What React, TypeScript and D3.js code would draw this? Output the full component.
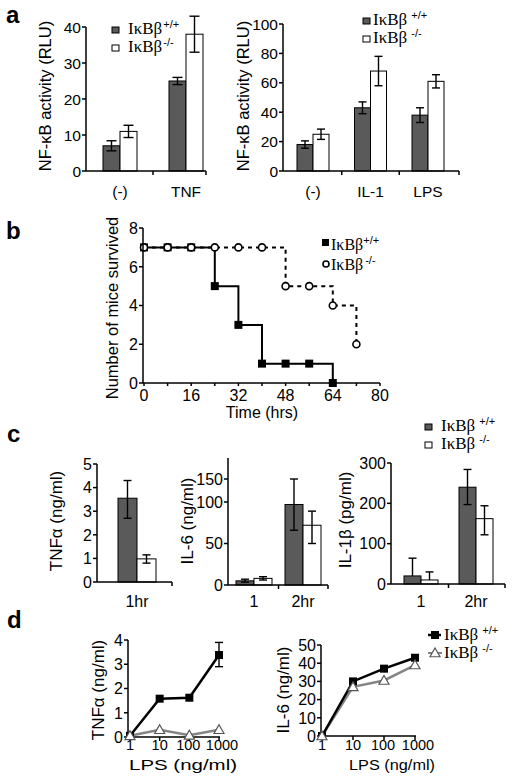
import React from "react";
import * as d3 from "d3";

const SANS = "'Liberation Sans', Arial, Helvetica, sans-serif";
const SERIF = "'Liberation Serif', 'Times New Roman', serif";
const DARK = "#5a5a5a";
const GRAY_LINE = "#858585";

// ---------- Panel a ----------
const aLeftCats = ["(-)", "TNF"];
const aLeftWT = [7, 25];
const aLeftWTErr = [1.4, 1];
const aLeftKO = [11, 38];
const aLeftKOErr = [1.7, 5];
const aLeftTicks = [0, 10, 20, 30, 40];

const aRightCats = ["(-)", "IL-1", "LPS"];
const aRightWT = [18, 43, 38];
const aRightWTErr = [2.5, 4, 5];
const aRightKO = [25, 68, 61];
const aRightKOErr = [3.5, 10, 4.5];
const aRightTicks = [0, 20, 40, 60, 80, 100];

// ---------- Panel b ----------
const bTimes = [0, 8, 16, 24, 32, 40, 48, 56, 64, 72];
const bWT = [7, 7, 7, 5, 3, 1, 1, 1, 0];
const bKO = [7, 7, 7, 7, 7, 7, 5, 5, 4, 2];
const bYTicks = [0, 2, 4, 6, 8];
const bXTicks = [0, 16, 32, 48, 64, 80];
const bXMinor = [0, 8, 16, 24, 32, 40, 48, 56, 64, 72, 80];

// ---------- Panel c ----------
const cTnfCats = ["1hr"];
const cTnfWT = [3.55];
const cTnfWTLo = [2.7];
const cTnfWTHi = [4.3];
const cTnfKO = [0.98];
const cTnfKOLo = [0.8];
const cTnfKOHi = [1.15];
const cTnfTicks = [0, 1, 2, 3, 4, 5];

const cIl6Cats = ["1", "2hr"];
const cIl6WT = [5, 97];
const cIl6WTLo = [3.5, 66];
const cIl6WTHi = [7, 150];
const cIl6KO = [8, 72];
const cIl6KOLo = [6, 50];
const cIl6KOHi = [10, 89];
const cIl6Ticks = [0, 50, 100, 150];

const cIl1Cats = ["1", "2hr"];
const cIl1WT = [20, 240];
const cIl1WTLo = [20, 197];
const cIl1WTHi = [64, 284];
const cIl1KO = [10, 162];
const cIl1KOLo = [10, 122];
const cIl1KOHi = [30, 194];
const cIl1Ticks = [0, 100, 200, 300];

// ---------- Panel d ----------
const dDoses = [1, 10, 100, 1000];
const dTnfWT = [0.05, 1.58, 1.62, 3.38];
const dTnfWTLo = [0.05, 1.58, 1.62, 2.9];
const dTnfWTHi = [0.05, 1.58, 1.62, 3.9];
const dTnfKO = [0.05, 0.3, 0.07, 0.3];
const dTnfTicks = [0, 1, 2, 3, 4];
const dIl6WT = [0, 30, 37, 43];
const dIl6KO = [0, 27, 30.5, 39];
const dIl6Ticks = [0, 10, 20, 30, 40, 50];

const GENO = "IκBβ";

function YAxis({ x, scale, ticks, top, fontSize }: any) {
  const y0 = scale(0);
  return (
    <g>
      <line x1={x} x2={x} y1={y0} y2={top} stroke="#000" strokeWidth={1.5} />
      {ticks.map((t: number) => (
        <g key={t}>
          <line x1={x - 4} x2={x} y1={scale(t)} y2={scale(t)} stroke="#000" strokeWidth={1.5} />
          <text x={x - 5} y={scale(t)} dy="0.36em" textAnchor="end" fontSize={fontSize} fontFamily={SANS}>
            {t}
          </text>
        </g>
      ))}
    </g>
  );
}

function YLabel({ x, y, size, children }: any) {
  return (
    <text transform={`translate(${x},${y}) rotate(-90)`} textAnchor="middle" fontSize={size} fontFamily={SANS}>
      {children}
    </text>
  );
}

function BarChart(p: any) {
  const centers = d3.scalePoint<string>().domain(p.cats).range(p.centerRange).padding(0);
  const series = d3.scaleBand<string>().domain(["wt", "ko"]).range([-p.barW, p.barW]);
  const y = p.yScale;
  const y0 = y(0);
  const cs = p.cats.map((c: string) => centers(c) as number);
  const mids: number[] = [];
  for (let i = 0; i < cs.length - 1; i++) mids.push((cs[i] + cs[i + 1]) / 2);
  mids.push(p.axisEnd);
  const rows = [
    { key: "wt", vals: p.wt, lo: p.wtLo, hi: p.wtHi, fill: DARK },
    { key: "ko", vals: p.ko, lo: p.koLo, hi: p.koHi, fill: "#fff" },
  ];
  return (
    <g>
      {rows.map((r) =>
        p.cats.map((c: string, i: number) => {
          const bx = (centers(c) as number) + (series(r.key) as number);
          const bw = series.bandwidth();
          const v = r.vals[i];
          return (
            <rect key={r.key + c} x={bx} y={y(v)} width={bw} height={y0 - y(v)} fill={r.fill} stroke="#000" strokeWidth={1} />
          );
        })
      )}
      {rows.map((r) =>
        p.cats.map((c: string, i: number) => {
          const cx = (centers(c) as number) + (series(r.key) as number) + series.bandwidth() / 2;
          const lo = Math.max(0, r.lo[i]);
          const hi = r.hi[i];
          const cw = p.capW / 2;
          return (
            <g key={"e" + r.key + c} stroke="#000" strokeWidth={1.4}>
              <line x1={cx} x2={cx} y1={y(lo)} y2={y(hi)} />
              <line x1={cx - cw} x2={cx + cw} y1={y(hi)} y2={y(hi)} />
              {r.lo[i] < r.vals[i] && <line x1={cx - cw} x2={cx + cw} y1={y(lo)} y2={y(lo)} />}
            </g>
          );
        })
      )}
      <line x1={p.axisX} x2={p.axisEnd} y1={y0} y2={y0} stroke="#000" strokeWidth={1.5} />
      {mids.map((m) => (
        <line key={m} x1={m} x2={m} y1={y0} y2={y0 + 4} stroke="#000" strokeWidth={1.5} />
      ))}
      <YAxis x={p.axisX} scale={y} ticks={p.ticks} top={p.top} fontSize={p.fontSize} />
      {p.cats.map((c: string) => (
        <text key={"l" + c} x={centers(c)} y={p.labelY} textAnchor="middle" fontSize={p.fontSize} fontFamily={SANS}>
          {c}
        </text>
      ))}
    </g>
  );
}

function GenoText({ x, y, sup, size, supSize, gap }: any) {
  return (
    <text x={x} y={y} fontFamily={SERIF} fontSize={size}>
      {GENO}
      <tspan dx={gap} dy={-size * 0.38} fontSize={supSize} fontFamily={SANS}>
        {sup}
      </tspan>
    </text>
  );
}

function BarLegend({ x, y1, y2, size, supSize, gap, textOff }: any) {
  return (
    <g>
      <rect x={x} y={y1 - 7} width={7} height={6} fill={DARK} stroke="#000" strokeWidth={1} />
      <GenoText x={x + textOff} y={y1} sup="+/+" size={size} supSize={supSize} gap={gap} />
      <rect x={x} y={y2 - 7} width={7} height={6} fill="#fff" stroke="#000" strokeWidth={1} />
      <GenoText x={x + textOff} y={y2} sup="-/-" size={size} supSize={supSize} gap={gap} />
    </g>
  );
}

function PanelLetter({ x, y, children }: any) {
  return (
    <text x={x} y={y} fontSize={24} fontWeight="bold" fontFamily={SANS}>
      {children}
    </text>
  );
}

function Survival() {
  const x = d3.scaleLinear().domain([0, 80]).range([144, 380]);
  const y = d3.scaleLinear().domain([0, 8]).range([383, 228]);
  const line = d3
    .line<[number, number]>()
    .x((d) => x(d[0]))
    .y((d) => y(d[1]))
    .curve(d3.curveStepAfter);
  const wtPts: [number, number][] = bWT.map((v, i) => [bTimes[i], v]);
  const koPts: [number, number][] = bKO.map((v, i) => [bTimes[i], v]);
  return (
    <g>
      <path d={line(koPts) as string} fill="none" stroke="#000" strokeWidth={2} strokeDasharray="4,4" />
      <path d={line(wtPts) as string} fill="none" stroke="#000" strokeWidth={2} />
      {wtPts.map((d, i) => (
        <rect key={"s" + i} x={x(d[0]) - 4} y={y(d[1]) - 4} width={8} height={8} fill="#000" />
      ))}
      {koPts.map((d, i) => (
        <circle key={"c" + i} cx={x(d[0])} cy={y(d[1])} r={3.5} fill="#fff" stroke="#000" strokeWidth={1.6} />
      ))}
      <line x1={143} x2={380} y1={383} y2={383} stroke="#000" strokeWidth={1.5} />
      {bXMinor.map((t) => (
        <line key={"m" + t} x1={x(t)} x2={x(t)} y1={383} y2={386} stroke="#000" strokeWidth={1.5} />
      ))}
      {bXTicks.map((t) => (
        <text key={"t" + t} x={x(t)} y={401} textAnchor="middle" fontSize={16} fontFamily={SANS}>
          {t}
        </text>
      ))}
      <YAxis x={143} scale={y} ticks={bYTicks} top={y(8)} fontSize={16} />
      <YLabel x={118} y={308} size={16.5}>Number of mice survived</YLabel>
      <text x={262} y={418} textAnchor="middle" fontSize={16} fontFamily={SANS}>
        Time (hrs)
      </text>
      <rect x={322} y={239} width={7} height={7} fill="#000" />
      <text x={331} y={250} fontFamily={SERIF} fontSize={16}>
        {GENO}
        <tspan dy={-6} fontSize={11} fontFamily={SANS}>+/+</tspan>
      </text>
      <circle cx={326} cy={264} r={3} fill="#fff" stroke="#000" strokeWidth={1.6} />
      <text x={331} y={270} fontFamily={SERIF} fontSize={16}>
        {GENO}
        <tspan dx={2} dy={-6} fontSize={11} fontFamily={SANS}>-/-</tspan>
      </text>
    </g>
  );
}

function Triangle({ cx, cy }: any) {
  const s = 5;
  return (
    <path
      d={`M${cx},${cy - s} L${cx + s},${cy + s * 0.75} L${cx - s},${cy + s * 0.75} Z`}
      fill="#fff"
      stroke="#555"
      strokeWidth={1.2}
    />
  );
}

function DoseChart(p: any) {
  const x = d3.scaleLog().domain([1, 1000]).range(p.xRange);
  const y = p.yScale;
  const line = d3
    .line<number>()
    .x((_, i) => x(dDoses[i]))
    .y((d) => y(d));
  const y0 = y(0);
  return (
    <g>
      <line x1={p.axisX} x2={p.xRange[1] + 1} y1={y0} y2={y0} stroke="#000" strokeWidth={1.5} />
      {dDoses.map((d, i) => (
        <g key={d}>
          <line x1={x(d)} x2={x(d)} y1={y0} y2={y0 + 4} stroke="#000" strokeWidth={1.5} />
          <text
            x={x(d)}
            dx={i === dDoses.length - 1 ? 3 : i === 2 ? -1 : 0}
            y={750}
            textAnchor="middle"
            fontSize={14.5}
            fontFamily={SANS}
          >
            {d}
          </text>
        </g>
      ))}
      <YAxis x={p.axisX} scale={y} ticks={p.ticks} top={p.top} fontSize={16} />
      {p.wtLo &&
        p.wt.map((v: number, i: number) =>
          p.wtHi[i] - p.wtLo[i] > 0.01 ? (
            <g key={"e" + i} stroke="#000" strokeWidth={1.4}>
              <line x1={x(dDoses[i])} x2={x(dDoses[i])} y1={y(p.wtLo[i])} y2={y(p.wtHi[i])} />
              <line x1={x(dDoses[i]) - 4} x2={x(dDoses[i]) + 4} y1={y(p.wtLo[i])} y2={y(p.wtLo[i])} />
              <line x1={x(dDoses[i]) - 4} x2={x(dDoses[i]) + 4} y1={y(p.wtHi[i])} y2={y(p.wtHi[i])} />
            </g>
          ) : null
        )}
      <path d={line(p.ko) as string} fill="none" stroke={GRAY_LINE} strokeWidth={2.5} />
      <path d={line(p.wt) as string} fill="none" stroke="#000" strokeWidth={2.5} />
      {p.wt.map((v: number, i: number) => (
        <rect key={"s" + i} x={x(dDoses[i]) - 4} y={y(v) - 4} width={8} height={8} fill="#000" />
      ))}
      {p.ko.map((v: number, i: number) => (
        <Triangle key={"t" + i} cx={x(dDoses[i])} cy={y(v)} />
      ))}
      <YLabel x={p.yLabelX} y={690} size={17}>{p.yLabel}</YLabel>
      <text
        x={p.xLabelX}
        y={770}
        textAnchor="middle"
        fontSize={15.5}
        fontFamily={SANS}
        textLength={p.xLabelLen}
        lengthAdjust="spacingAndGlyphs"
      >
        LPS (ng/ml)
      </text>
    </g>
  );
}

export default function App() {
  const aLy = d3.scaleLinear().domain([0, 40]).range([171, 27]);
  const aRy = d3.scaleLinear().domain([0, 100]).range([171, 24]);
  const c1y = d3.scaleLinear().domain([0, 5]).range([582, 464]);
  const c2y = d3.scaleLinear().domain([0, 100, 150, 196]).range([585, 502, 479, 458]);
  const c3y = d3.scaleLinear().domain([0, 300]).range([584, 463]);
  const d1y = d3.scaleLinear().domain([0, 4]).range([737, 640]);
  const d2y = d3.scaleLinear().domain([0, 50]).range([736, 645]);

  return (
    <svg
      width={513}
      height={783}
      viewBox="0 0 513 783"
      style={{ position: "absolute", left: 0, top: 0, background: "#fff" }}
    >
      <rect x={0} y={0} width={513} height={783} fill="#fff" />
      {/* Panel a */}
      <PanelLetter x={6} y={23}>a</PanelLetter>
      <BarChart
        cats={aLeftCats}
        centerRange={[120, 186]}
        barW={17}
        yScale={aLy}
        ticks={aLeftTicks}
        top={aLy(40)}
        axisX={86}
        axisEnd={206}
        wt={aLeftWT}
        wtLo={aLeftWT.map((v, i) => v - aLeftWTErr[i])}
        wtHi={aLeftWT.map((v, i) => v + aLeftWTErr[i])}
        ko={aLeftKO}
        koLo={aLeftKO.map((v, i) => v - aLeftKOErr[i])}
        koHi={aLeftKO.map((v, i) => v + aLeftKOErr[i])}
        capW={10}
        labelY={197}
        fontSize={15.5}
      />
      <YLabel x={51} y={96} size={16.5}>NF-κB activity (RLU)</YLabel>
      <BarLegend x={112} y1={34} y2={52} size={17} supSize={11} gap={1} textOff={16} />

      <BarChart
        cats={aRightCats}
        centerRange={[313, 428]}
        barW={16}
        yScale={aRy}
        ticks={aRightTicks}
        top={aRy(100)}
        axisX={283}
        axisEnd={459}
        wt={aRightWT}
        wtLo={aRightWT.map((v, i) => v - aRightWTErr[i])}
        wtHi={aRightWT.map((v, i) => v + aRightWTErr[i])}
        ko={aRightKO}
        koLo={aRightKO.map((v, i) => v - aRightKOErr[i])}
        koHi={aRightKO.map((v, i) => v + aRightKOErr[i])}
        capW={8}
        labelY={197}
        fontSize={15.5}
      />
      <YLabel x={249} y={96} size={16.5}>NF-κB activity (RLU)</YLabel>
      <BarLegend x={363} y1={25} y2={43} size={17} supSize={11} gap={4} textOff={10} />

      {/* Panel b */}
      <PanelLetter x={6} y={239}>b</PanelLetter>
      <Survival />

      {/* Panel c */}
      <PanelLetter x={7} y={442}>c</PanelLetter>
      <BarChart
        cats={cTnfCats}
        centerRange={[120, 154]}
        barW={19}
        yScale={c1y}
        ticks={cTnfTicks}
        top={c1y(5)}
        axisX={97}
        axisEnd={172}
        wt={cTnfWT}
        wtLo={cTnfWTLo}
        wtHi={cTnfWTHi}
        ko={cTnfKO}
        koLo={cTnfKOLo}
        koHi={cTnfKOHi}
        capW={8}
        labelY={607}
        fontSize={16}
      />
      <YLabel x={62} y={521} size={17}>TNFα (ng/ml)</YLabel>

      <BarChart
        cats={cIl6Cats}
        centerRange={[254, 303]}
        barW={18}
        yScale={c2y}
        ticks={cIl6Ticks}
        top={c2y(196)}
        axisX={228}
        axisEnd={328}
        wt={cIl6WT}
        wtLo={cIl6WTLo}
        wtHi={cIl6WTHi}
        ko={cIl6KO}
        koLo={cIl6KOLo}
        koHi={cIl6KOHi}
        capW={8}
        labelY={607}
        fontSize={16}
      />
      <YLabel x={193} y={521} size={17}>IL-6 (ng/ml)</YLabel>

      <BarChart
        cats={cIl1Cats}
        centerRange={[421, 476]}
        barW={17}
        yScale={c3y}
        ticks={cIl1Ticks}
        top={c3y(300)}
        axisX={391}
        axisEnd={505}
        wt={cIl1WT}
        wtLo={cIl1WTLo}
        wtHi={cIl1WTHi}
        ko={cIl1KO}
        koLo={cIl1KOLo}
        koHi={cIl1KOHi}
        capW={8}
        labelY={607}
        fontSize={16}
      />
      <YLabel x={351} y={520} size={17}>IL-1β (pg/ml)</YLabel>
      <BarLegend x={425} y1={431} y2={449} size={17} supSize={11} gap={4} textOff={16} />

      {/* Panel d */}
      <PanelLetter x={7} y={628}>d</PanelLetter>
      <DoseChart
        xRange={[130, 219]}
        axisX={128}
        yScale={d1y}
        ticks={dTnfTicks}
        top={d1y(4)}
        wt={dTnfWT}
        wtLo={dTnfWTLo}
        wtHi={dTnfWTHi}
        ko={dTnfKO}
        yLabel="TNFα (ng/ml)"
        yLabelX={104}
        xLabelX={183}
        xLabelLen={108}
      />
      <DoseChart
        xRange={[322, 415]}
        axisX={321}
        yScale={d2y}
        ticks={dIl6Ticks}
        top={d2y(50)}
        wt={dIl6WT}
        ko={dIl6KO}
        yLabel="IL-6 (ng/ml)"
        yLabelX={289}
        xLabelX={392}
        xLabelLen={86}
      />
      <g>
        <line x1={428} x2={441} y1={635} y2={635} stroke="#000" strokeWidth={2.5} />
        <rect x={431} y={631} width={8} height={8} fill="#000" />
        <GenoText x={444} y={640} sup="+/+" size={17} supSize={11} gap={4} />
        <line x1={428} x2={442} y1={653} y2={653} stroke={GRAY_LINE} strokeWidth={2} />
        <Triangle cx={435} cy={653} />
        <GenoText x={444} y={658} sup="-/-" size={17} supSize={11} gap={4} />
      </g>
    </svg>
  );
}
